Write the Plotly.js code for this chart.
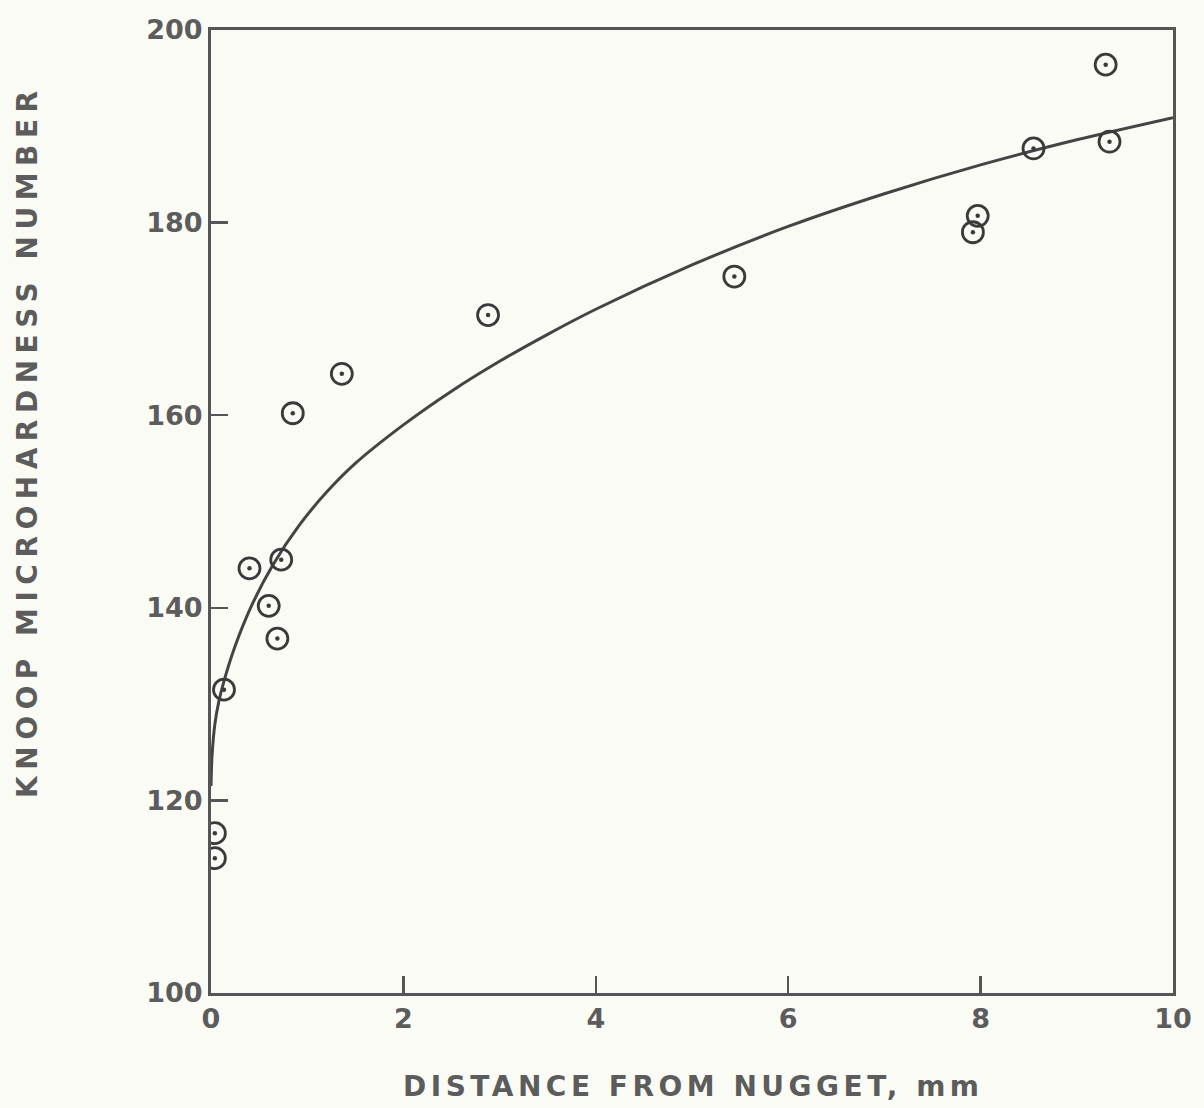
<!DOCTYPE html>
<html>
<head>
<meta charset="utf-8">
<script src="https://cdn.plot.ly/plotly-3.0.1.min.js"></script>
<style>
  html, body { margin: 0; padding: 0; background: #fbfbf6; }
  #chart { width: 1204px; height: 1108px; }
</style>
</head>
<body>
<div id="chart"></div>
<script>
// Measured hardness values
const distanceMm = [0.04, 0.04, 0.135, 0.40, 0.60, 0.69, 0.73, 0.85, 1.36, 2.88, 5.44, 7.92, 7.97, 8.55, 9.34, 9.30];
const knoopHardness = [116.6, 114.0, 131.5, 144.1, 140.2, 136.8, 145.0, 160.2, 164.3, 170.4, 174.4, 179.0, 180.7, 187.7, 188.4, 196.4];

// Fitted trend curve
const fitDistance = [0.0, 0.01, 0.04, 0.08, 0.13, 0.25, 0.43, 0.64, 0.92, 1.2, 1.5, 2.0, 2.5, 3.0, 3.5, 4.0, 5.0, 6.0, 7.0, 8.0, 9.0, 10.0];
const fitHardness = [121.5, 124.5, 127.9, 130.2, 132.2, 136.0, 140.4, 144.4, 148.6, 152.0, 155.0, 159.0, 162.5, 165.6, 168.4, 171.0, 175.6, 179.6, 183.0, 186.0, 188.6, 190.9];

const xTicks = [0, 2, 4, 6, 8, 10];
const yTicks = [100, 120, 140, 160, 180, 200];

const ink = '#444444';
const markInk = '#3a3a3a';
const textGrey = '#5c5c5c';
const font = 'DejaVu Sans, sans-serif';

const traces = [
  {
    x: fitDistance, y: fitHardness,
    mode: 'lines', type: 'scatter',
    line: { color: ink, width: 3, shape: 'spline', smoothing: 0.8 },
    hoverinfo: 'skip', showlegend: false
  },
  {
    x: distanceMm, y: knoopHardness,
    mode: 'markers', type: 'scatter',
    marker: { symbol: 'circle-open', size: 21, color: markInk, line: { width: 2.8, color: markInk } },
    showlegend: false
  },
  {
    // centre dot of each reading
    x: distanceMm, y: knoopHardness,
    mode: 'markers', type: 'scatter',
    marker: { symbol: 'circle', size: 4.5, color: markInk, line: { width: 0 } },
    showlegend: false
  }
];

const axisCommon = {
  showgrid: false, zeroline: false,
  showline: true, mirror: true, linecolor: '#555555', linewidth: 3,
  ticks: 'inside', ticklen: 17, tickwidth: 2.5, tickcolor: '#555555',
  tickfont: { family: font, size: 27, color: textGrey, weight: 'bold' }
};

const layout = {
  width: 1204, height: 1108,
  margin: { l: 211, r: 31, t: 30, b: 115 },
  paper_bgcolor: '#fbfbf6', plot_bgcolor: '#fbfbf6',
  xaxis: Object.assign({}, axisCommon, {
    range: [0, 10], tickvals: xTicks, ticktext: xTicks.map(String)
  }),
  yaxis: Object.assign({}, axisCommon, {
    range: [100, 200], tickvals: yTicks, ticktext: yTicks.map(String)
  }),
  annotations: [
    {
      text: 'DISTANCE FROM NUGGET, mm',
      xref: 'paper', yref: 'paper', x: 0.502, y: -0.0966,
      xanchor: 'center', yanchor: 'middle', showarrow: false,
      font: { family: font, size: 28, color: textGrey, weight: 'bold' }
    },
    {
      text: 'KNOOP MICROHARDNESS NUMBER',
      xref: 'paper', yref: 'paper', x: -0.191, y: 0.573,
      xanchor: 'center', yanchor: 'middle', textangle: -90, showarrow: false,
      font: { family: font, size: 28, color: textGrey, weight: 'bold' }
    }
  ]
};

const titleSpacing = ['4.5px', '6.5px'];

Plotly.newPlot('chart', traces, layout, { staticPlot: true, displayModeBar: false }).then(function (gd) {
  const labels = gd.querySelectorAll('.annotation-text');
  labels.forEach(function (el, i) {
    el.style.letterSpacing = titleSpacing[i] || '0px';
  });
});
</script>
</body>
</html>
